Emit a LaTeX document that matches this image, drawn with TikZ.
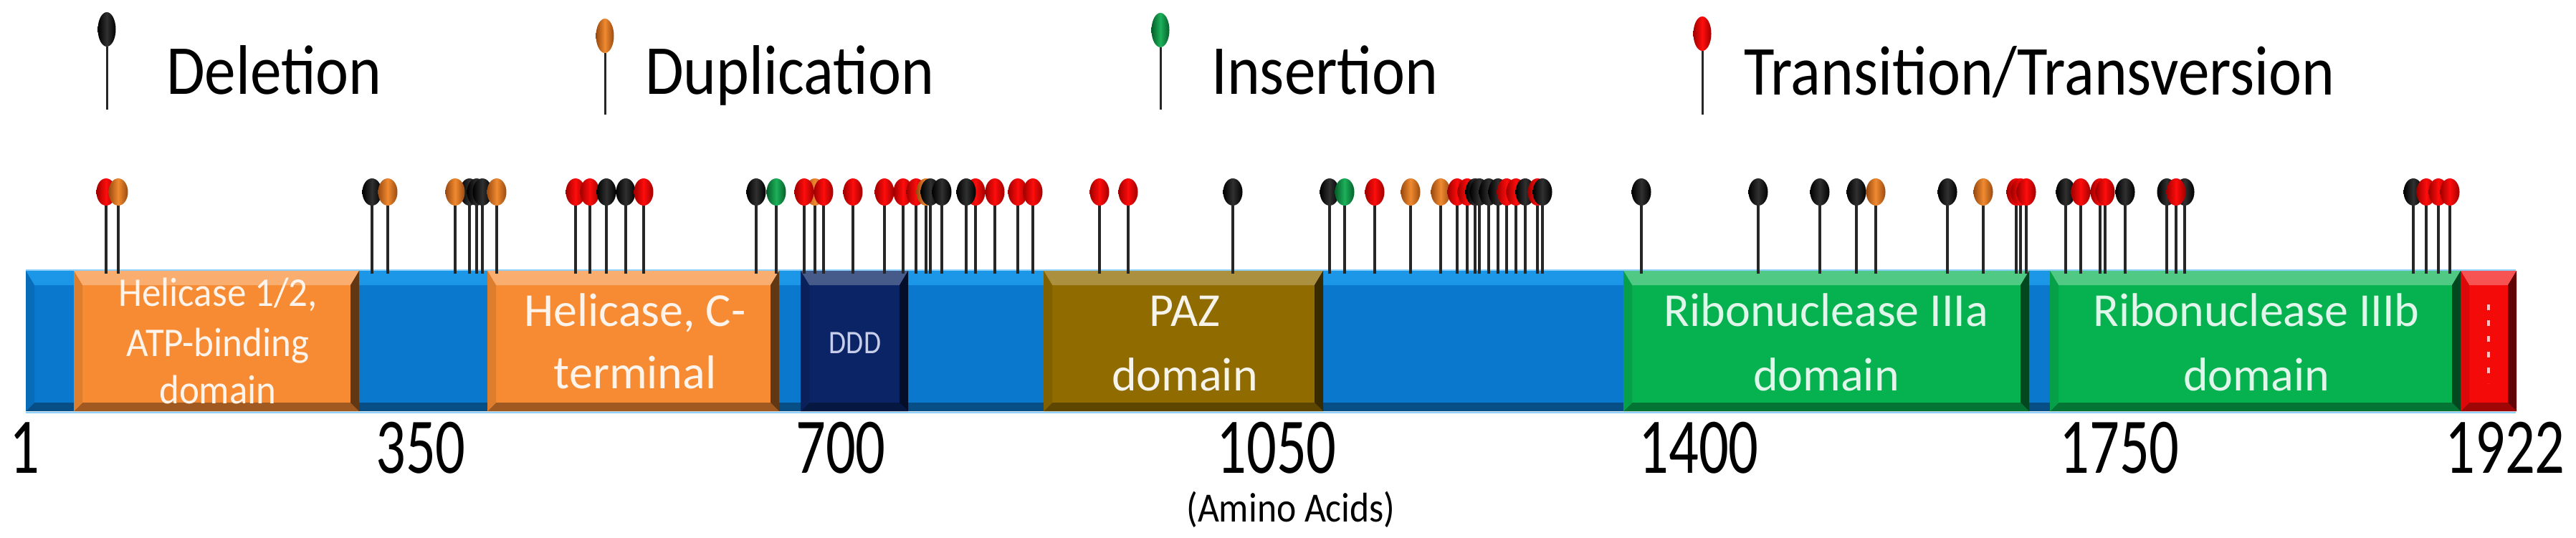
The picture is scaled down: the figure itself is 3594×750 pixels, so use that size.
\documentclass[tikz,border=0pt]{standalone}
\usepackage{fontspec}
\setmainfont{Carlito}
\newfontfamily\legfont[FakeStretch=0.89]{Carlito}
\newfontfamily\axfont[FakeStretch=0.75]{Carlito}
\newfontfamily\amfont[FakeStretch=0.89]{Carlito}
\newfontfamily\hfont[FakeStretch=0.93]{Carlito}
\newfontfamily\dfont[FakeStretch=0.85]{Carlito}
\usetikzlibrary{shapes.geometric}
\definecolor{barblue}{HTML}{0A78CC}
\definecolor{bartop}{HTML}{1C96E6}
\definecolor{barline}{HTML}{8FD0FA}
\definecolor{helor}{HTML}{F68B33}
\definecolor{dddnavy}{HTML}{0A2465}
\definecolor{dddtext}{HTML}{C8CEEA}
\definecolor{pazbr}{HTML}{8F6B00}
\definecolor{ribgr}{HTML}{05B24F}
\definecolor{endred}{HTML}{F50A0A}
\definecolor{tr}{HTML}{FF0C0C}
\definecolor{Etr}{HTML}{A00000}
\definecolor{dup}{HTML}{F08A30}
\definecolor{Edup}{HTML}{9A4A10}
\definecolor{del}{HTML}{303030}
\definecolor{Edel}{HTML}{000000}
\definecolor{ins}{HTML}{1DB05A}
\definecolor{Eins}{HTML}{05602A}
\newcommand\bevbox[4]{%
  \fill[#3] (#1,378) rectangle (#2,574);
  \fill[#4] (#1,378) -- (#2,378) -- (#2-12,398) -- (#1+12,398) -- cycle;
  \fill[#3!65!black] (#1,574) -- (#2,574) -- (#2-12,562) -- (#1+12,562) -- cycle;
  \fill[#3!90!black] (#1,378) -- (#1+12,398) -- (#1+12,562) -- (#1,574) -- cycle;
  \fill[#3!40!black] (#2,378) -- (#2-12,398) -- (#2-12,562) -- (#2,574) -- cycle;
}
\begin{document}
\begin{tikzpicture}[x=1pt,y=-1pt,
  head/.style={ellipse, inner sep=0pt, minimum width=27pt, minimum height=38pt,
    left color=E#1, right color=E#1, middle color=#1},
  leghead/.style={ellipse, inner sep=0pt, minimum width=25pt, minimum height=48pt,
    left color=E#1, right color=E#1, middle color=#1},
  stem/.style={line width=3.5pt, black!85},
  legtext/.style={anchor=base west, inner sep=0pt, font=\legfont\fontsize{98}{110}\selectfont},
  axlabel/.style={anchor=base, inner sep=0pt, font=\axfont\fontsize{110}{120}\selectfont},
  domtext/.style={anchor=base, inner sep=0pt, font=\fontsize{66}{80}\selectfont},
  heltext/.style={anchor=base, inner sep=0pt, font=\hfont\fontsize{57}{68}\selectfont}
]
\useasboundingbox (0,0) rectangle (3594,750);
\fill[white] (0,0) rectangle (3594,750);

% main bar
\bevbox{36}{3510}{barblue}{bartop}
\draw[barline, line width=2.5pt] (36,377) -- (3510,377);
\draw[barline, line width=2.5pt] (36,576) -- (3510,576);

% domains
\bevbox{103}{501}{helor}{helor!70!white}
\bevbox{680}{1087}{helor}{helor!70!white}
\bevbox{1117}{1267}{dddnavy}{dddnavy!75!white}
\bevbox{1456}{1846}{pazbr}{pazbr!75!white}
\bevbox{2265}{2831}{ribgr}{ribgr!70!white}
\bevbox{2860}{3433}{ribgr}{ribgr!70!white}
\bevbox{3433}{3511}{endred}{endred!70!white}
\draw[red!25!white, line width=4pt, dash pattern=on 8pt off 14pt] (3472,425) -- (3472,535);

% domain labels
\node[heltext, text=white!90!helor] (hA1) at (304,427) {Helicase 1/2,};
\node[heltext, text=white!90!helor] (hA2) at (304,497) {ATP-binding};
\node[heltext, text=white!90!helor] (hA3) at (304,563) {domain};
\node[domtext, text=white!90!helor] (hC1) at (886,455) {Helicase, C-};
\node[domtext, text=white!90!helor] (hC2) at (886,542) {terminal};
\node[anchor=base, inner sep=0pt, font=\dfont\fontsize{46}{50}\selectfont, text=dddtext] (ddd) at (1193,493) {DDD};
\node[domtext, text=white!92!pazbr] (paz1) at (1653,455) {PAZ};
\node[domtext, text=white!92!pazbr] (paz2) at (1653,545) {domain};
\node[domtext, text=white!88!ribgr] (rA1) at (2548,455) {Ribonuclease IIIa};
\node[domtext, text=white!88!ribgr] (rA2) at (2548,545) {domain};
\node[domtext, text=white!88!ribgr] (rB1) at (3148,455) {Ribonuclease IIIb};
\node[domtext, text=white!88!ribgr] (rB2) at (3148,545) {domain};

% mutations
\foreach \x/\t [count=\i] in {148/tr,165/dup,519/del,541/dup,655/del,665/del,673/del,635/dup,693/dup,803/tr,823/tr,846/del,873/del,898/tr,1055/del,1083/ins,1137/dup,1122/tr,1149/tr,1190/tr,1234/tr,1260/tr,1278/tr,1292/dup,1298/del,1314/del,1361/tr,1348/del,1388/tr,1420/tr,1441/tr,1534/tr,1574/tr,1720/del,1855/del,1876/ins,1918/tr,1968/dup,2010/dup,2033/tr,2047/tr,2058/del,2064/del,2077/del,2090/del,2102/tr,2115/tr,2128/del,2145/tr,2152/del,2290/del,2453/del,2539/del,2590/del,2617/dup,2717/del,2767/dup,2813/tr,2819/tr,2827/tr,2882/del,2903/tr,2930/tr,2937/tr,2965/del,3023/del,3048/del,3036/tr,3367/del,3385/tr,3402/tr,3418/tr}{
  \node[head=\t] (h\i) at (\x,268) {};
  \coordinate (b\i) at (\x,382);
  \draw[stem] (h\i.south) -- (b\i);
}

% legend
\node[leghead=del] (lgDel) at (149,41) {};
\coordinate (lgDelEnd) at (149,153);
\draw[stem, line width=3pt] (lgDel.south) -- (lgDelEnd);
\node[legtext] (tDel) at (232,131) {Deletion};
\node[leghead=dup] (lgDup) at (844,50) {};
\coordinate (lgDupEnd) at (844,160);
\draw[stem, line width=3pt] (lgDup.south) -- (lgDupEnd);
\node[legtext] (tDup) at (900,131) {Duplication};
\node[leghead=ins] (lgIns) at (1619,42) {};
\coordinate (lgInsEnd) at (1619,153);
\draw[stem, line width=3pt] (lgIns.south) -- (lgInsEnd);
\node[legtext] (tIns) at (1690,131) {Insertion};
\node[leghead=tr] (lgTr) at (2375,47) {};
\coordinate (lgTrEnd) at (2375,160);
\draw[stem, line width=3pt] (lgTr.south) -- (lgTrEnd);
\node[legtext] (tTr) at (2433,132) {Transition/Transversion};

% axis labels
\node[axlabel] (a1) at (34,660) {1};
\node[axlabel] (a350) at (587,660) {350};
\node[axlabel] (a700) at (1173,660) {700};
\node[axlabel] (a1050) at (1781,660) {1050};
\node[axlabel] (a1400) at (2370,660) {1400};
\node[axlabel] (a1750) at (2957,660) {1750};
\node[axlabel] (a1922) at (3495,660) {1922};
\node[anchor=base, inner sep=0pt, font=\amfont\fontsize{58}{64}\selectfont] (amino) at (1801,728) {(Amino Acids)};
\end{tikzpicture}
\end{document}
